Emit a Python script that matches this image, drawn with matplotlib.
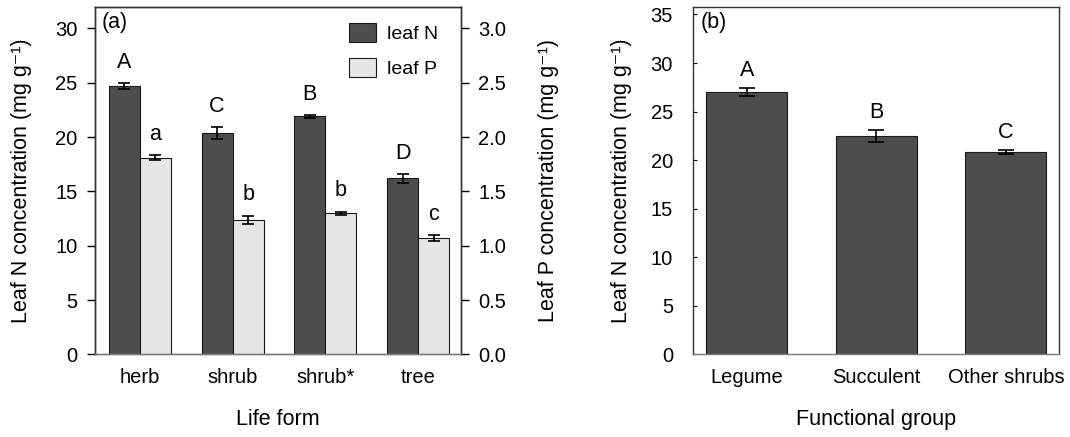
import matplotlib
matplotlib.use("Agg")
import matplotlib.pyplot as plt
import numpy as np

plt.rcParams['font.family'] = ['Liberation Sans', 'DejaVu Sans']

# ---- data: panel (a) ----
life_forms = ["herb", "shrub", "shrub*", "tree"]
leaf_n = [24.7, 20.4, 21.9, 16.2]
leaf_n_err = [0.28, 0.55, 0.15, 0.40]
leaf_p = [1.81, 1.24, 1.30, 1.07]
leaf_p_err = [0.025, 0.037, 0.014, 0.03]
n_letters = ["A", "C", "B", "D"]
p_letters = ["a", "b", "b", "c"]

# ---- data: panel (b) ----
groups = ["Legume", "Succulent", "Other shrubs"]
group_n = [27.0, 22.5, 20.85]
group_n_err = [0.4, 0.58, 0.18]
group_letters = ["A", "B", "C"]

dark = "#4d4d4d"
light = "#e6e6e6"
edge = "#1a1a1a"
TICK = 14.5
LAB = 15.5
UNIT = " (mg g$^{\\mathregular{\u2010}1}$)"
UNIT = " (mg g\u207b\u00b9)"

fig = plt.figure(figsize=(10.7, 4.37), dpi=100)

# ================= panel (a) =================
axa = fig.add_axes([0.0888, 0.1888, 0.3421, 0.7959])
axp = axa.twinx()
x = np.arange(len(life_forms))
w = 0.335
axa.bar(x - w / 2, leaf_n, w, color=dark, edgecolor=edge, linewidth=0.8,
        label="leaf N", zorder=2)
axa.errorbar(x - w / 2, leaf_n, yerr=leaf_n_err, fmt="none", ecolor="black",
             elinewidth=1.2, capsize=4, capthick=1.2, zorder=3)
axp.bar(x + w / 2, leaf_p, w, color=light, edgecolor=edge, linewidth=0.8,
        label="leaf P", zorder=2)
axp.errorbar(x + w / 2, leaf_p, yerr=leaf_p_err, fmt="none", ecolor="black",
             elinewidth=1.2, capsize=4, capthick=1.2, zorder=3)

axa.set_xlim(-0.484, 3.464)
axa.set_ylim(0, 32)
axp.set_ylim(0, 3.2)
axa.set_yticks(np.arange(0, 31, 5))
axp.set_yticks(np.arange(0, 3.01, 0.5))
axp.set_yticklabels([f"{v:.1f}" for v in np.arange(0, 3.01, 0.5)])
axa.set_xticks(x)
axa.set_xticklabels(life_forms)
axa.tick_params(axis="x", length=0, pad=10, labelsize=TICK)
axa.tick_params(axis="y", direction="out", length=5.5, width=1, pad=7,
                labelsize=TICK)
axp.tick_params(axis="y", direction="out", length=5.5, width=1, pad=7,
                labelsize=TICK)

for i in range(len(life_forms)):
    axa.annotate(n_letters[i], (x[i] - w / 2, leaf_n[i] + leaf_n_err[i]),
                 xytext=(0, 10.5), textcoords="offset points", ha="center",
                 va="baseline", fontsize=LAB)
    axp.annotate(p_letters[i], (x[i] + w / 2, leaf_p[i] + leaf_p_err[i]),
                 xytext=(0, 11), textcoords="offset points", ha="center",
                 va="baseline", fontsize=LAB)

for ax in (axa, axp):
    for s in ax.spines.values():
        s.set_color("#333333")
        s.set_linewidth(1.0)
    ax.spines["bottom"].set_color("#7a7a7a")

axa.set_ylabel("Leaf N concentration" + UNIT, fontsize=LAB)
axa.yaxis.set_label_coords(-0.2003, 0.5)
axa.yaxis.label.set_va("center")
axp.set_ylabel("Leaf P concentration" + UNIT, fontsize=LAB)
axp.yaxis.set_label_coords(1.2377, 0.5)
axp.yaxis.label.set_va("center")
axa.set_xlabel("Life form", fontsize=LAB)
axa.xaxis.set_label_coords(0.5, -0.1855)
axa.xaxis.label.set_va("center")
axa.text(0.017, 0.985, "(a)", transform=axa.transAxes, ha="left", va="top",
         fontsize=LAB)

h1, l1 = axa.get_legend_handles_labels()
h2, l2 = axp.get_legend_handles_labels()
leg = axp.legend(h1 + h2, l1 + l2, loc="upper left",
                 bbox_to_anchor=(0.694, 0.952), frameon=False,
                 fontsize=14, handlelength=1.39, handleheight=1.08,
                 handletextpad=0.55, labelspacing=0.78, borderpad=0,
                 borderaxespad=0)

# ================= panel (b) =================
axb = fig.add_axes([0.6472, 0.1888, 0.3425, 0.7959])
xb = np.arange(len(groups))
wb = 0.625
axb.bar(xb, group_n, wb, color=dark, edgecolor=edge, linewidth=0.8, zorder=2)
axb.errorbar(xb, group_n, yerr=group_n_err, fmt="none", ecolor="black",
             elinewidth=1.2, capsize=6, capthick=1.2, zorder=3)
axb.set_xlim(-0.42, 2.41)
axb.set_ylim(0, 35.8)
axb.set_yticks(np.arange(0, 36, 5))
axb.set_xticks(xb)
axb.set_xticklabels(groups)
axb.tick_params(axis="x", direction="in", length=3, width=0.8, pad=10,
                labelsize=TICK, color="#333333")
axb.tick_params(axis="y", direction="in", length=3, width=0.8, pad=14,
                labelsize=TICK)
for i in range(len(groups)):
    axb.annotate(group_letters[i], (xb[i], group_n[i] + group_n_err[i]),
                 xytext=(0, 9), textcoords="offset points", ha="center",
                 va="baseline", fontsize=LAB)
for s in axb.spines.values():
    s.set_color("#333333")
    s.set_linewidth(1.0)
axb.spines["bottom"].set_color("#7a7a7a")
axb.set_ylabel("Leaf N concentration" + UNIT, fontsize=LAB)
axb.yaxis.set_label_coords(-0.195, 0.5)
axb.yaxis.label.set_va("center")
axb.set_xlabel("Functional group", fontsize=LAB)
axb.xaxis.set_label_coords(0.5, -0.1855)
axb.xaxis.label.set_va("center")
axb.text(0.022, 0.985, "(b)", transform=axb.transAxes, ha="left", va="top",
         fontsize=LAB)

fig.savefig("out.png", dpi=100)
